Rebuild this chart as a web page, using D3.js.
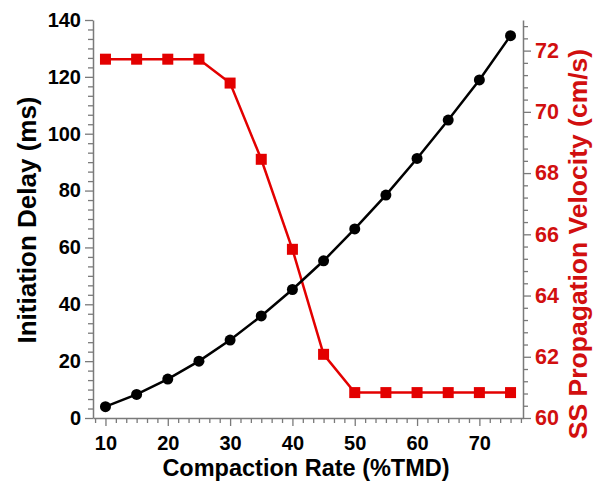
<!DOCTYPE html>
<html><head><meta charset="utf-8">
<script src="https://cdn.jsdelivr.net/npm/d3@7/dist/d3.min.js"></script>
<style>body{margin:0;background:#fff}svg{display:block}</style>
</head><body><svg id="chart" width="596" height="490"></svg>
<script>
const compaction = [10, 15, 20, 25, 30, 35, 40, 45, 50, 55, 60, 65, 70, 75];
const initiationDelay = [4.0, 8.3, 13.7, 20.0, 27.4, 35.9, 45.2, 55.3, 66.5, 78.4, 91.3, 104.8, 118.9, 134.5];
const ssVelocity = [71.72, 71.72, 71.72, 71.72, 70.94, 68.45, 65.51, 62.08, 60.83, 60.83, 60.83, 60.83, 60.83, 60.83];
const xTicks = [10, 20, 30, 40, 50, 60, 70];
const yLeftTicks = [0, 20, 40, 60, 80, 100, 120, 140];
const yRightTicks = [60, 62, 64, 66, 68, 70, 72];
const xTitle = "Compaction Rate (%TMD)";
const yLeftTitle = "Initiation Delay (ms)";
const yRightTitle = "SS Propagation Velocity (cm/s)";

const svg = d3.select("#chart");
const font = "'Liberation Sans', Arial, Helvetica, sans-serif";
const red = "#e30000", redText = "#d10f0f", axisCol = "#7a7a7a";

const x = d3.scaleLinear().domain([8, 77]).range([93, 523]);
const yL = d3.scaleLinear().domain([0, 140]).range([418, 20]);
const yR = d3.scaleLinear().domain([60, 73]).range([418, 20]);

const xMinor = d3.range(-1, 41).map(i => 10 + i * 10 / 6).filter(v => v >= 8 && v <= 77 && Math.abs(((v - 10) / 10) - Math.round((v - 10) / 10)) > 1e-6);
const yLMinor = d3.range(0, 43).map(i => i * 20 / 6).filter(v => v <= 140 && Math.abs(v / 20 - Math.round(v / 20)) > 1e-6);
const yRMinor = d3.range(0, 33).map(i => 60 + i * 0.4).filter(v => v <= 73 && Math.abs((v - 60) / 2 - Math.round((v - 60) / 2)) > 1e-6);

function styleAxis(g, color, size) {
  g.select(".domain").attr("stroke", axisCol).attr("stroke-width", 1.5);
  g.selectAll(".tick line").attr("stroke", axisCol).attr("stroke-width", 1.3);
  g.selectAll(".tick text").attr("font-family", font).attr("font-weight", "bold")
    .attr("font-size", size).attr("fill", color);
}

// minor ticks
svg.append("g").attr("transform", "translate(0,418)")
  .call(d3.axisBottom(x).tickValues(xMinor).tickSize(5).tickFormat("").tickSizeOuter(0))
  .call(g => { g.select(".domain").remove(); g.selectAll("line").attr("stroke", axisCol).attr("stroke-width", 1.3); });
svg.append("g").attr("transform", "translate(93,0)")
  .call(d3.axisLeft(yL).tickValues(yLMinor).tickSize(5).tickFormat("").tickSizeOuter(0))
  .call(g => { g.select(".domain").remove(); g.selectAll("line").attr("stroke", axisCol).attr("stroke-width", 1.3); });
svg.append("g").attr("transform", "translate(523,0)")
  .call(d3.axisRight(yR).tickValues(yRMinor).tickSize(5).tickFormat("").tickSizeOuter(0))
  .call(g => { g.select(".domain").remove(); g.selectAll("line").attr("stroke", axisCol).attr("stroke-width", 1.3); });

// major axes
svg.append("g").attr("transform", "translate(0,418)")
  .call(d3.axisBottom(x).tickValues(xTicks).tickSize(8).tickSizeOuter(0).tickPadding(10))
  .call(g => styleAxis(g, "#000", 20));
svg.append("g").attr("transform", "translate(93,0)")
  .call(d3.axisLeft(yL).tickValues(yLeftTicks).tickSize(8).tickSizeOuter(0).tickPadding(4))
  .call(g => styleAxis(g, "#000", 20));
svg.append("g").attr("transform", "translate(523,0)")
  .call(d3.axisRight(yR).tickValues(yRightTicks).tickSize(8).tickSizeOuter(0).tickPadding(4))
  .call(g => styleAxis(g, redText, 21.5));

// titles
svg.append("text").attr("x", 306).attr("y", 476).attr("text-anchor", "middle")
  .attr("font-family", font).attr("font-weight", "bold").attr("font-size", 23.5).attr("fill", "#000")
  .text(xTitle);
svg.append("text").attr("transform", "translate(36,220) rotate(-90)").attr("text-anchor", "middle")
  .attr("font-family", font).attr("font-weight", "bold").attr("font-size", 26).attr("fill", "#000")
  .text(yLeftTitle);
svg.append("text").attr("transform", "translate(587,244) rotate(-90)").attr("text-anchor", "middle")
  .attr("font-family", font).attr("font-weight", "bold").attr("font-size", 26.5).attr("fill", redText)
  .text(yRightTitle);

const data = compaction.map((c, i) => ({ c, d: initiationDelay[i], v: ssVelocity[i] }));

// red series
svg.append("path").datum(data)
  .attr("fill", "none").attr("stroke", red).attr("stroke-width", 2.5)
  .attr("d", d3.line().x(d => x(d.c)).y(d => yR(d.v)));
svg.append("g").selectAll("rect").data(data).join("rect")
  .attr("x", d => x(d.c) - 5.5).attr("y", d => yR(d.v) - 5.5)
  .attr("width", 11).attr("height", 11).attr("fill", red);

// black series
svg.append("path").datum(data)
  .attr("fill", "none").attr("stroke", "#000").attr("stroke-width", 2.5)
  .attr("d", d3.line().x(d => x(d.c)).y(d => yL(d.d)));
svg.append("g").selectAll("circle").data(data).join("circle")
  .attr("cx", d => x(d.c)).attr("cy", d => yL(d.d)).attr("r", 5.5).attr("fill", "#000");
</script></body></html>
